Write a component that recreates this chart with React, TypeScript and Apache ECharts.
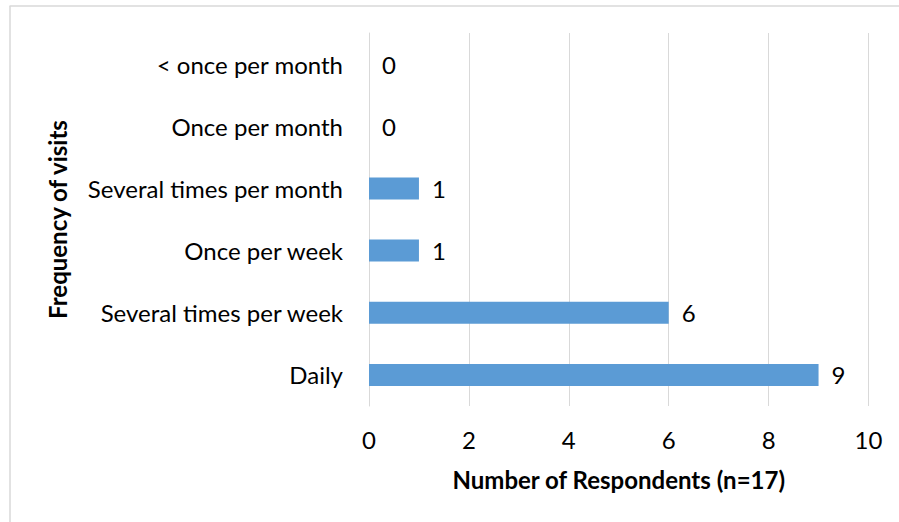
import React, { useEffect, useRef } from "react";
import * as echarts from "echarts";

const categories = [
  "Daily",
  "Several times per week",
  "Once per week",
  "Several times per month",
  "Once per month",
  "< once per month",
];
const respondents = [9, 6, 1, 1, 0, 0];
const xTicks = { min: 0, max: 10, interval: 2 };
const xAxisName = "Number of Respondents (n=17)";
const yAxisName = "Frequency of visits";

const FONT = "Lato, 'Open Sans', sans-serif";
const FS = 24;

export default function App() {
  const ref = useRef<HTMLDivElement>(null);
  useEffect(() => {
    document.body.style.margin = "0";
    const chart = echarts.init(ref.current!, null, { renderer: "svg" });
    chart.setOption({
      animation: false,
      textStyle: { fontFamily: FONT },
      graphic: [
        {
          type: "line",
          shape: { x1: 9.5, y1: 6, x2: 899, y2: 6 },
          style: { stroke: "#d9d9d9", lineWidth: 1.5 },
        },
        {
          type: "line",
          shape: { x1: 10, y1: 6, x2: 10, y2: 522 },
          style: { stroke: "#d9d9d9", lineWidth: 1.5 },
        },
      ],
      grid: { left: 369, right: 30.5, top: 33, bottom: 116, containLabel: false },
      xAxis: {
        type: "value",
        min: xTicks.min,
        max: xTicks.max,
        interval: xTicks.interval,
        axisLine: { show: false },
        axisTick: { show: false },
        splitLine: { show: true, lineStyle: { color: "#d9d9d9", width: 1 } },
        axisLabel: { fontFamily: FONT, fontSize: FS, color: "#000", margin: 21 },
        name: xAxisName,
        nameLocation: "middle",
        nameGap: 61,
        nameTextStyle: { fontFamily: FONT, fontSize: FS, fontWeight: "bold", color: "#000" },
      },
      yAxis: {
        type: "category",
        data: categories,
        axisLine: { show: true, lineStyle: { color: "#d9d9d9", width: 1 } },
        axisTick: { show: false },
        axisLabel: { fontFamily: FONT, fontSize: FS, color: "#000", margin: 26 },
        name: yAxisName,
        nameLocation: "middle",
        nameRotate: 90,
        nameGap: 300,
        nameTextStyle: { fontFamily: FONT, fontSize: FS, fontWeight: "bold", color: "#000" },
      },
      series: [
        {
          type: "bar",
          data: respondents,
          barWidth: 22,
          itemStyle: { color: "#5B9BD5" },
          label: {
            show: true,
            position: "right",
            distance: 13,
            fontFamily: FONT,
            fontSize: FS,
            color: "#000",
          },
        },
      ],
    });
    return () => chart.dispose();
  }, []);
  return <div ref={ref} style={{ width: 899, height: 522 }} />;
}
